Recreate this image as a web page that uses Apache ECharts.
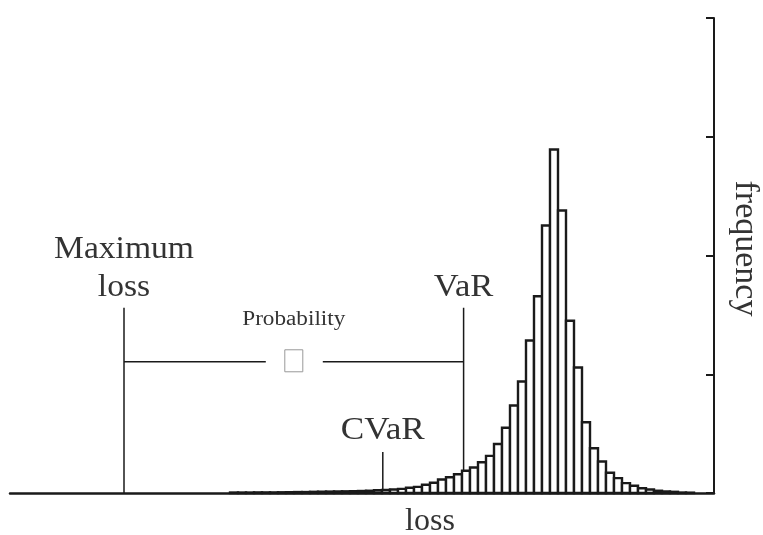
<!DOCTYPE html>
<html>
<head>
<meta charset="utf-8">
<title>loss distribution: VaR / CVaR</title>
<script src="https://cdn.jsdelivr.net/npm/echarts@6/dist/echarts.min.js"></script>
<style>
    html, body { margin: 0; padding: 0; background: #fff; }
    #main { width: 763px; height: 535px; }
</style>
</head>
<body>
<div id="main"></div>
<script>
    // histogram bins (centre of each bin on the loss axis, 1 unit = 1 bin)
    var lossBins = [28, 29, 30, 31, 32, 33, 34, 35, 36, 37, 38, 39, 40, 41, 42, 43, 44, 45, 46, 47,
        48, 49, 50, 51, 52, 53, 54, 55, 56, 57, 58, 59, 60, 61, 62, 63, 64, 65, 66, 67,
        68, 69, 70, 71, 72, 73, 74, 75, 76, 77, 78, 79, 80, 81, 82, 83, 84, 85];
    // frequency of each bin
    var freqValues = [0.4, 0.4, 0.4, 0.5, 0.5, 0.5, 0.6, 0.7, 0.8, 0.8, 1.0, 1.1, 1.2, 1.3, 1.4, 1.5, 1.7, 1.9, 2.3, 2.5,
        2.9, 3.5, 4.4, 5.2, 6.9, 8.6, 11.4, 13.3, 15.8, 18.7, 21.5, 25.9, 31.3, 41.3, 54.9, 73.7, 93.9, 128.4, 165.7, 225.3,
        289.3, 237.9, 145.0, 105.7, 59.6, 37.7, 26.5, 17.0, 12.5, 8.3, 6.1, 4.0, 2.9, 1.9, 1.3, 1.0, 0.4, 0.3];

    // axis ranges / ticks
    var lossMin = 0, lossMax = 88;
    var freqMin = 0, freqMax = 400, freqStep = 100;

    // markers on the loss axis
    var maxLoss = 14.25;
    var varLoss = 56.7;
    var cvarLoss = 46.6;
    // heights of the annotation lines (frequency units)
    var markerTop = 156;
    var probLineLevel = 110.5;
    var cvarTop = 34.5;

    var serif = '"Liberation Serif", "DejaVu Serif", serif';
    var textColor = '#333';
    var lineColor = '#1a1a1a';

    var chart = echarts.init(document.getElementById('main'));

    var barData = [];
    for (var i = 0; i < lossBins.length; i++) {
        barData.push([lossBins[i], freqValues[i]]);
    }

    // bar top at a given loss value (so a marker line stops on the bar)
    function freqAt(x) {
        for (var i = 0; i < lossBins.length; i++) {
            if (x >= lossBins[i] - 0.5 && x < lossBins[i] + 0.5) return freqValues[i];
        }
        return 0;
    }

    function renderBar(params, api) {
        var x = api.value(0), y = api.value(1);
        var p0 = api.coord([x - 0.5, y]);
        var p1 = api.coord([x + 0.5, 0]);
        return {
            type: 'rect',
            shape: { x: p0[0], y: p0[1], width: p1[0] - p0[0], height: p1[1] - p0[1] },
            style: { fill: '#fff', stroke: lineColor, lineWidth: 2.4 }
        };
    }

    function vline(x, yTop, yBottom, api) {
        var a = api.coord([x, yTop]);
        var b = api.coord([x, yBottom]);
        return {
            type: 'line',
            shape: { x1: a[0], y1: a[1], x2: b[0], y2: b[1] },
            style: { stroke: lineColor, lineWidth: 1.5 }
        };
    }

    // the original lettering is a little wider than the font, hence scaleX
    function label(str, pos, dy, size, stretch) {
        return {
            type: 'text',
            x: pos[0],
            y: pos[1] + dy,
            scaleX: stretch,
            style: {
                text: str, fill: textColor, align: 'center', verticalAlign: 'bottom',
                font: size + 'px ' + serif
            }
        };
    }

    function renderNotes(params, api) {
        var mTop = api.coord([maxLoss, markerTop]);
        var vTop = api.coord([varLoss, markerTop]);
        var cTop = api.coord([cvarLoss, cvarTop]);
        var pl = api.coord([maxLoss, probLineLevel]);
        var pr = api.coord([varLoss, probLineLevel]);
        var mid = (pl[0] + pr[0]) / 2;
        return {
            type: 'group',
            children: [
                vline(maxLoss, markerTop, 0, api),
                vline(varLoss, markerTop, freqAt(varLoss), api),
                vline(cvarLoss, cvarTop, freqAt(cvarLoss), api),
                {
                    type: 'line',
                    shape: { x1: pl[0], y1: pl[1], x2: mid - 28, y2: pl[1] },
                    style: { stroke: lineColor, lineWidth: 1.5 }
                },
                {
                    type: 'line',
                    shape: { x1: mid + 29, y1: pr[1], x2: pr[0], y2: pr[1] },
                    style: { stroke: lineColor, lineWidth: 1.5 }
                },
                {
                    // the symbol box between the two arms
                    type: 'rect',
                    shape: { x: mid - 9, y: pl[1] - 12, width: 18, height: 22 },
                    style: { fill: '#fff', stroke: '#999', lineWidth: 1 }
                },
                label('Probability', [mid, pl[1]], -32, 20, 1.16),
                label('Maximum', mTop, -42, 32, 1.05),
                label('loss', mTop, -4, 32, 1.05),
                label('VaR', vTop, -4, 32, 1.08),
                label('CVaR', cTop, -5, 32, 1.1)
            ]
        };
    }

    var option = {
        backgroundColor: '#fff',
        animation: false,
        grid: { left: 10, right: 49, top: 18, bottom: 42, outerBoundsMode: 'none' },
        xAxis: {
            type: 'value',
            min: lossMin,
            max: lossMax,
            name: 'loss',
            nameLocation: 'middle',
            nameGap: 13,
            nameTextStyle: {
                color: textColor, fontSize: 32, fontFamily: serif, verticalAlign: 'top',
                padding: [0, 0, 0, 136]
            },
            axisLine: { show: true, onZero: false, lineStyle: { color: lineColor, width: 2.5 } },
            axisTick: { show: false },
            axisLabel: { show: false },
            splitLine: { show: false }
        },
        yAxis: {
            type: 'value',
            position: 'right',
            min: freqMin,
            max: freqMax,
            interval: freqStep,
            name: 'frequency',
            nameLocation: 'middle',
            nameRotate: -90,
            nameGap: 14,
            nameTextStyle: {
                color: textColor, fontSize: 34, fontFamily: serif,
                padding: [0, 14, 0, 0]
            },
            axisLine: { show: true, onZero: false, lineStyle: { color: lineColor, width: 2 } },
            axisTick: { show: true, inside: true, length: 8, lineStyle: { color: lineColor, width: 2 } },
            axisLabel: { show: false },
            splitLine: { show: false }
        },
        series: [
            {
                name: 'frequency',
                type: 'custom',
                renderItem: renderBar,
                data: barData,
                z: 3
            },
            {
                name: 'notes',
                type: 'custom',
                renderItem: renderNotes,
                data: [[maxLoss, markerTop]],
                silent: true,
                z: 4
            }
        ]
    };

    chart.setOption(option);
</script>
</body>
</html>
